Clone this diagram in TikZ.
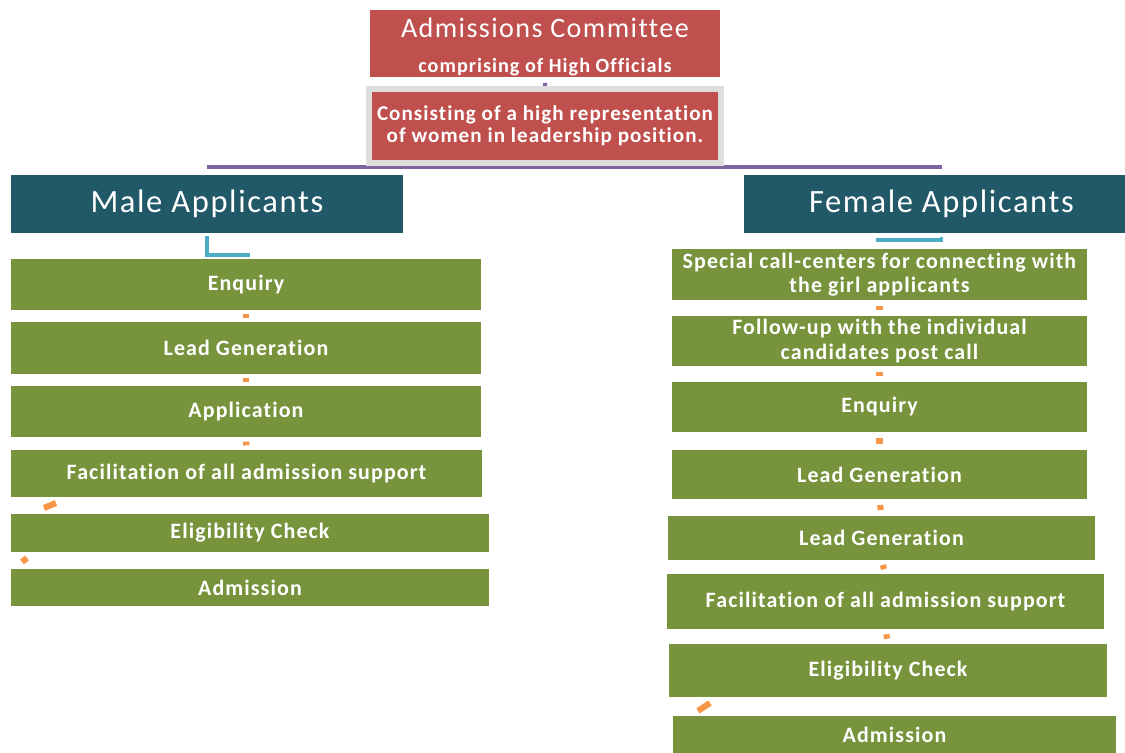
\documentclass[tikz,border=0pt]{standalone}
\usepackage{fontspec}
\setmainfont{Carlito}[LetterSpace=5, Ligatures={CommonOff, ContextualOff}, RawFeature={-liga;-clig;-calt;-dlig}]
\usetikzlibrary{positioning, calc, backgrounds}
\definecolor{boxred}{HTML}{C0504D}
\definecolor{boxteal}{HTML}{215968}
\definecolor{boxgreen}{HTML}{77933C}
\definecolor{lineorange}{HTML}{F79646}
\definecolor{linepurple}{HTML}{8064A2}
\definecolor{lineteal}{HTML}{4BACC6}
\tikzset{
	redbox/.style = {fill = boxred, text = white, anchor = north west, inner sep = 0pt, outer sep = 0pt, align = center},
	headbox/.style = {fill = boxteal, text = white, anchor = north west, inner sep = 0pt, outer sep = 0pt, font = \fontsize{18.5}{22}\selectfont},
	stepbox/.style = {fill = boxgreen, text = white, anchor = north west, inner sep = 0pt, outer sep = 0pt, align = center, font = \bfseries\fontsize{12.5}{14}\selectfont},
	purpleline/.style = {draw = linepurple, line width = 2pt},
	tealline/.style = {draw = lineteal, line width = 2pt},
	orangeline/.style = {draw = lineorange, line width = 3.5pt}
}

\begin{document}
\begin{tikzpicture}[x = 0.02cm, y = -0.02cm]
		\useasboundingbox (0,0) rectangle (1125,753);
		% committee on top
		\node[redbox, minimum width = 7cm, minimum height = 1.34cm] (comm) at (370,10) {{\fontsize{16}{18}\selectfont\rule{0pt}{15pt}Admissions Committee}\\[7.5pt]{\bfseries\fontsize{11.5}{12}\selectfont comprising of High Officials}};
		\node[redbox, draw = black!13, line width = 3.4pt, minimum width = 7.04cm, minimum height = 1.48cm, font = \bfseries\fontsize{12}{12.5}\selectfont] (consist) at (369,89) {Consisting of a high representation\\of women in leadership position.};
		% the two groups
		\node[headbox, minimum width = 7.84cm, minimum height = 1.16cm] (male) at (11,175) {Male Applicants};
		\node[headbox, minimum width = 7.62cm, minimum height = 1.16cm] (fem) at (744,175) {\hspace{8pt}Female Applicants};
		% male steps
		\node[stepbox, minimum width = 9.4cm, minimum height = 1.02cm] (mEnq) at (11,259) {Enquiry};
		\node[stepbox, minimum width = 9.4cm, minimum height = 1.04cm] (mLead) at (11,322) {Lead Generation};
		\node[stepbox, minimum width = 9.4cm, minimum height = 1.02cm] (mAppl) at (11,386) {Application};
		\node[stepbox, minimum width = 9.42cm, minimum height = 0.94cm] (mFac) at (11,450) {Facilitation of all admission support};
		\node[stepbox, minimum width = 9.56cm, minimum height = 0.76cm] (mElig) at (11,514) {Eligibility Check};
		\node[stepbox, minimum width = 9.56cm, minimum height = 0.74cm] (mAdm) at (11,569) {Admission};
		% female steps
		\node[stepbox, minimum width = 8.3cm, minimum height = 1.02cm] (fSpec) at (672,249) {Special call-centers for connecting with\\the girl applicants};
		\node[stepbox, minimum width = 8.3cm, minimum height = 1cm] (fFol) at (672,316) {Follow-up with the individual\\candidates post call};
		\node[stepbox, minimum width = 8.3cm, minimum height = 1cm] (fEnq) at (672,382) {Enquiry};
		\node[stepbox, minimum width = 8.3cm, minimum height = 0.98cm] (fLead) at (672,450) {Lead Generation};
		\node[stepbox, minimum width = 8.54cm, minimum height = 0.88cm] (fLeadB) at (668,516) {Lead Generation};
		\node[stepbox, minimum width = 8.74cm, minimum height = 1.1cm] (fFac) at (667,574) {Facilitation of all admission support};
		\node[stepbox, minimum width = 8.76cm, minimum height = 1.06cm] (fElig) at (669,644) {Eligibility Check};
		\node[stepbox, minimum width = 8.86cm, minimum height = 0.74cm] (fAdm) at (673,716) {Admission};
		\begin{scope}[on background layer]
		% purple tree lines
		\coordinate (bar) at ($(consist.south)+(0,4)$);
		\draw[purpleline, line width = 2.5pt, shorten <= 3.4pt] (comm.south) -- (consist.north);
		\draw[purpleline] (consist.south) -- (bar);
		\draw[purpleline] (bar -| male.north) -- ($(bar -| fem.north)+(8,0)$);
		% teal elbows
		\draw[tealline, shorten <= 1.7pt] (male.south) |- ($(mEnq.north)+(4,-4)$);
		\draw[tealline] ($(fem.south)+(7,4)$) |- ($(fSpec.north)+(-3,-9)$);
		% orange marks, male side
		\draw[orangeline] ($(mEnq.south)!.35!(mLead.north)$) -- ($(mEnq.south)!.65!(mLead.north)$);
		\draw[orangeline] ($(mLead.south)!.35!(mAppl.north)$) -- ($(mLead.south)!.65!(mAppl.north)$);
		\draw[orangeline] ($(mAppl.south)!.35!(mFac.north)$) -- ($(mAppl.south)!.65!(mFac.north)$);
		\draw[orangeline] ($(mFac.south west)+(33,11)$) -- ($(mFac.south west)+(45,6)$);
		\draw[orangeline] ($(mElig.south west)+(11,10)$) -- ($(mElig.south west)+(16,6)$);
		% orange marks, female side
		\draw[orangeline] ($(fSpec.south)!.35!(fFol.north)$) -- ($(fSpec.south)!.65!(fFol.north)$);
		\draw[orangeline] ($(fFol.south)!.35!(fEnq.north)$) -- ($(fFol.south)!.65!(fEnq.north)$);
		\draw[orangeline] ($(fEnq.south)!.35!(fLead.north)$) -- ($(fEnq.south)!.65!(fLead.north)$);
		\draw[orangeline] ($(fLead.south)!.35!(fLeadB.north)$) -- ($(fLead.south)!.65!(fLeadB.north)$);
		\draw[orangeline] ($(fLeadB.south)!.35!(fFac.north)$) -- ($(fLeadB.south)!.65!(fFac.north)$);
		\draw[orangeline] ($(fFac.south)!.35!(fElig.north)$) -- ($(fFac.south)!.65!(fElig.north)$);
		\draw[orangeline] ($(fElig.south west)+(29,14)$) -- ($(fElig.south west)+(41,6)$);
		\end{scope}
	\end{tikzpicture}
\end{document}
